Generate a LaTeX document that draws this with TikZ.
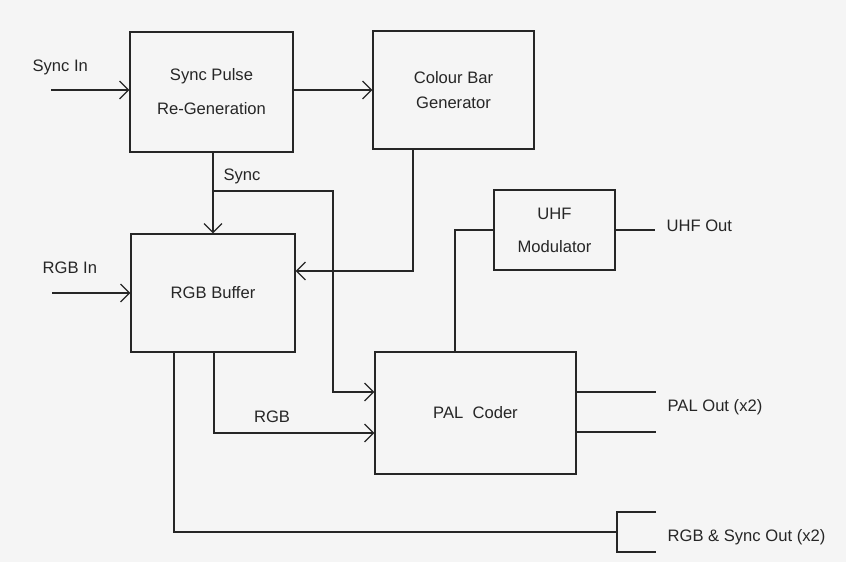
\documentclass[tikz,border=0pt]{standalone}
\usepackage{fontspec}
\setmainfont{Liberation Sans}
\usetikzlibrary{arrows.meta}

\begin{document}
\begin{tikzpicture}[x=1pt,y=-1pt,line width=1.2pt,color={black!85},
  font=\fontsize{16.6}{20}\selectfont,
  >={Straight Barb[length=9pt,width=18pt]},
  blk/.style={draw,rectangle,align=center,inner sep=0pt}]
\fill[black!4] (0,0) rectangle (846,562);
\useasboundingbox (0,0) rectangle (846,562);
% blocks
\node[blk,minimum width=163pt,minimum height=120pt,font=\fontsize{16.6}{34}\selectfont] (sp) at (211.5,92) {Sync Pulse\\Re-Generation};
\node[blk,minimum width=161pt,minimum height=118pt,font=\fontsize{16.6}{25}\selectfont] (cb) at (453.5,90) {Colour Bar\\Generator};
\node[blk,minimum width=164pt,minimum height=118pt] (rb) at (213,293) {RGB Buffer};
\node[blk,minimum width=121pt,minimum height=80pt,font=\fontsize{16.6}{33}\selectfont] (uhf) at (554.5,230) {UHF\\Modulator};
\node[blk,minimum width=201pt,minimum height=122pt] (pal) at (475.5,413) {PAL\ \ Coder};
% labels
\node[anchor=west,inner sep=0pt] (syncin) at (32,67) {Sync In};
\node[anchor=west,inner sep=0pt] (rgbin) at (42,268) {RGB In};
\node[anchor=west,inner sep=0pt] (synclbl) at (223,176) {Sync};
\node[inner sep=0pt] (rgblbl) at (272,417) {RGB};
\node[anchor=west,inner sep=0pt] (uhfout) at (666,226) {UHF Out};
\node[anchor=west,inner sep=0pt] (palout) at (667,407) {PAL Out (x2)};
\node[anchor=west,inner sep=0pt] (rgbout) at (667,537) {RGB \& Sync Out (x2)};
% inputs
\coordinate (sin) at (51,90);
\coordinate (rin) at (52,293);
\draw[->] (sin) -- (sin -| sp.west);
\draw[->] (rin) -- (rin -| rb.west);
% sync
\draw[->] (sp.east |- 0,90) -- (cb.west |- 0,90);
\draw[->] (sp.south -| 213,0) -- (rb.north -| 213,0);
\coordinate (sj) at (213,191);
\draw[->] (sj) -- (333,191) -- (333,392) -- (pal.west |- 0,392);
\draw[->] (cb.south -| 413,0) |- (rb.east |- 0,271);
% rgb
\draw[->] (rb.south -| 214,0) |- (pal.west |- 0,433);
\draw (rb.south -| 174,0) |- (617,532);
\draw (656,512) -- (617,512) -- (617,552) -- (656,552);
% outputs
\draw (pal.north -| 455,0) |- (uhf.west);
\draw (uhf.east) -- ++(39,0);
\foreach \y in {392,432}
  \draw (pal.east |- 0,\y) -- (656,\y);
\end{tikzpicture}
\end{document}
